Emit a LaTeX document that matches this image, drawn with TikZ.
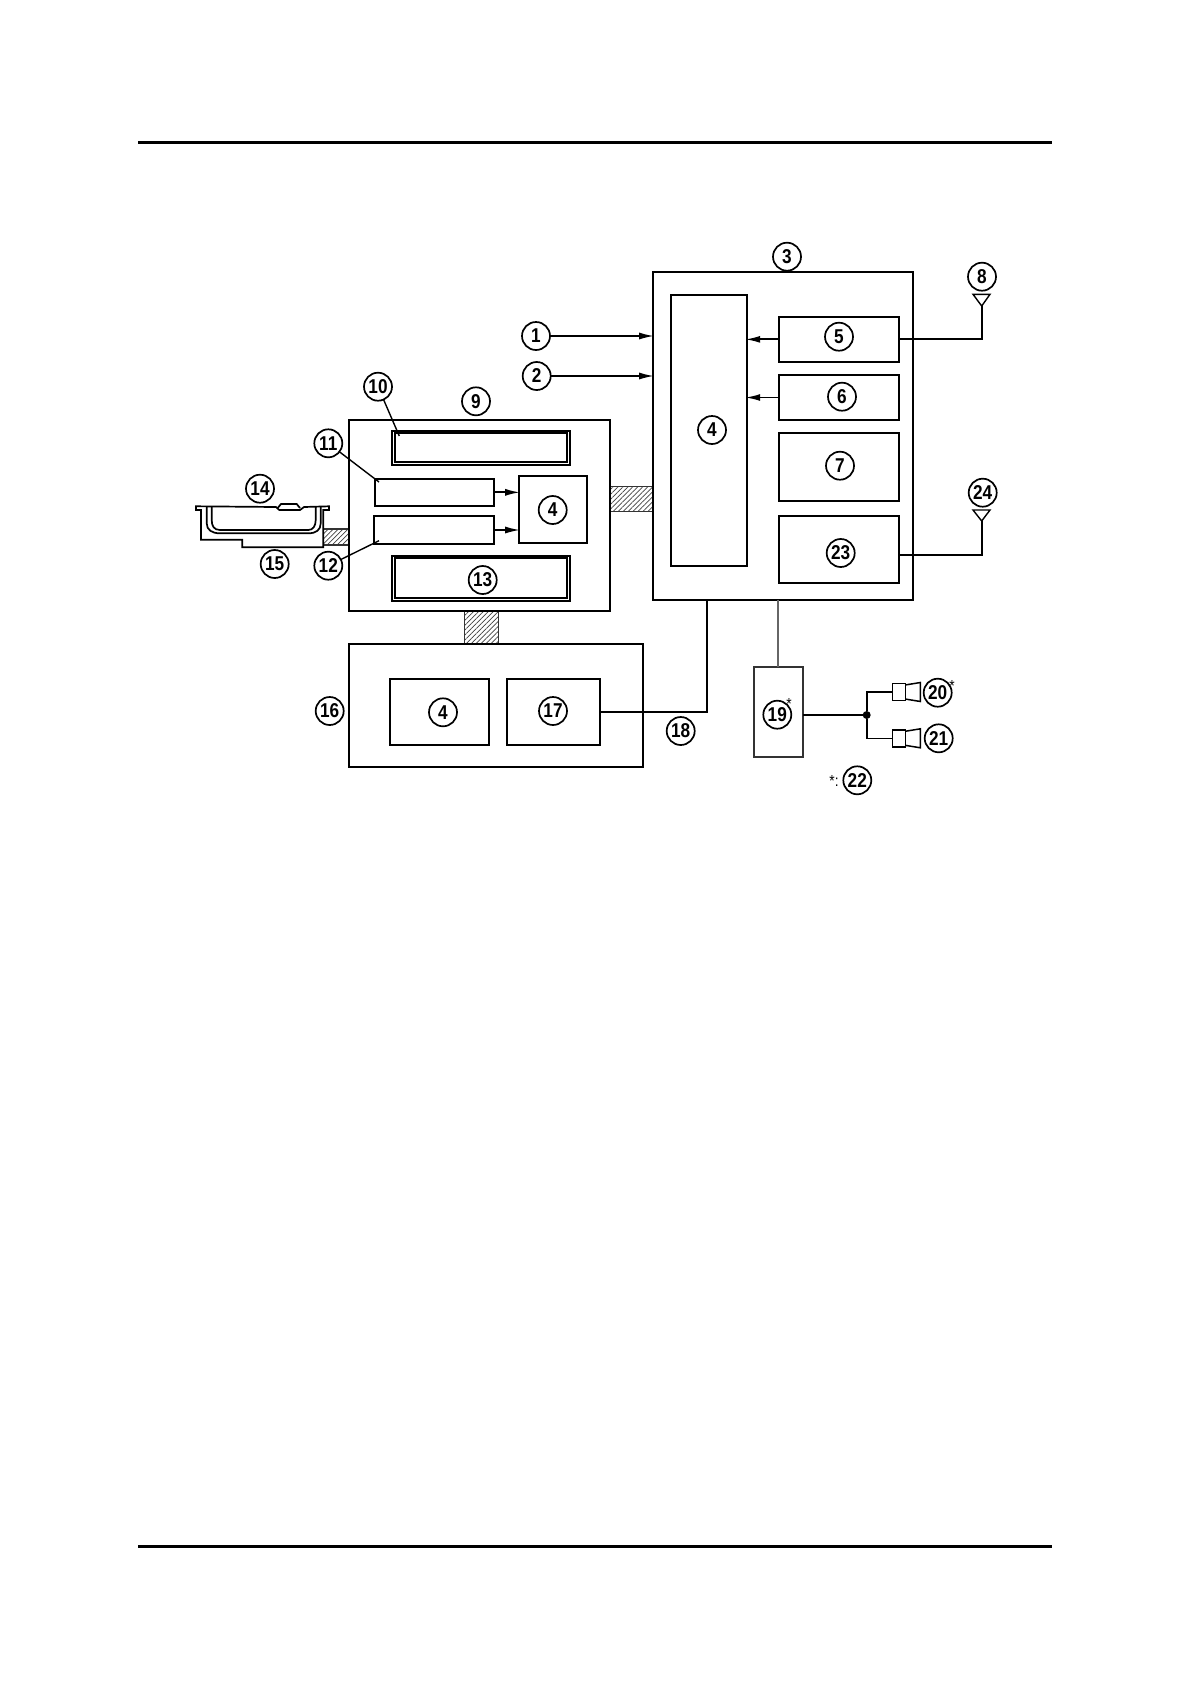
\documentclass[tikz,border=0pt]{standalone}
\usepackage{fontspec}
\setmainfont[FakeStretch=0.86]{Liberation Sans}
\usetikzlibrary{positioning, arrows.meta, patterns.meta}

\begin{document}
\begin{tikzpicture}[x=1pt, y=-1pt]
    % Define the style for the boxes
    \tikzset{
        blk/.style={rectangle, draw=black, line width=1.8pt, anchor=north west, inner sep=0pt, outer sep=0pt},
        num/.style={circle, draw=black, line width=1.7pt, minimum size=28pt, inner sep=0pt, outer sep=0pt, font=\fontsize{20}{20}\selectfont\bfseries},
        hatchbar/.style={rectangle, draw=black!80, line width=1.5pt, anchor=north west, inner sep=0pt, outer sep=0pt, pattern={Lines[angle=45, distance=3.5pt, line width=0.7pt]}, pattern color=black!75},
        wire/.style={draw=black, line width=1.8pt},
        arr/.style={wire, shorten >=-1.5pt, -{Latex[length=15pt, width=7pt]}},
        leader/.style={draw=black, line width=1.4pt},
        cone/.style={draw=black, line width=1.5pt, line join=miter},
        starmark/.style={inner sep=0pt, font=\fontsize{16}{16}\selectfont},
        junction/.style={circle, fill=black, minimum size=8pt, inner sep=0pt}
    }

    \useasboundingbox (0,0) rectangle (1190,1684);

    % Page rules
    \draw[line width=3.2pt] (138,142.3) -- (1052,142.3);
    \draw[line width=3.2pt] (138,1546.3) -- (1052,1546.3);

    % Draw the hatched buses
    \node[hatchbar, minimum width=43pt, minimum height=25pt] (bus3) at (610,486.7) {};
    \node[hatchbar, minimum width=26pt, minimum height=16pt] (bus14) at (323.3,529) {};
    \node[hatchbar, minimum width=33.6pt, minimum height=33.6pt] (bus16) at (464.7,610.7) {};

    % Draw the main unit
    \node[blk, minimum width=260pt, minimum height=327.3pt] (box3) at (652.7,272.3) {};
    \node[blk, minimum width=75.7pt, minimum height=271pt] (cpu3) at (671,295) {};
    \node[blk, minimum width=120pt, minimum height=45.3pt] (box5) at (779,316.7) {};
    \node[blk, minimum width=120pt, minimum height=45pt] (box6) at (779,375) {};
    \node[blk, minimum width=120pt, minimum height=68pt] (box7) at (779,433) {};
    \node[blk, minimum width=120pt, minimum height=67.3pt] (box23) at (779,515.7) {};

    % Draw the middle unit
    \node[blk, minimum width=261pt, minimum height=190.7pt] (box9) at (349,420) {};
    \node[blk, minimum width=178.3pt, minimum height=33.7pt] (box10) at (391.7,431) {};
    \node[blk, minimum width=171.7pt, minimum height=29pt] (box10in) at (395,433.3) {};
    \node[blk, minimum width=119.3pt, minimum height=26.7pt] (box11) at (374.7,479) {};
    \node[blk, minimum width=119.7pt, minimum height=27.4pt] (box12) at (374.3,516.3) {};
    \node[blk, minimum width=68pt, minimum height=67.6pt] (cpu9) at (518.7,475.7) {};
    \node[blk, minimum width=178.3pt, minimum height=45pt] (box13) at (391.7,555.7) {};
    \node[blk, minimum width=171.7pt, minimum height=40pt] (box13in) at (395,558.3) {};

    % Draw the lower unit
    \node[blk, minimum width=293.7pt, minimum height=123pt] (box16) at (349,644.3) {};
    \node[blk, minimum width=99pt, minimum height=66.6pt] (cpu16) at (390.3,678.7) {};
    \node[blk, minimum width=93.6pt, minimum height=66.6pt] (box17) at (506.7,678.7) {};

    % Draw the amplifier and speakers
    \node[blk, draw=black!80, minimum width=49.3pt, minimum height=90pt] (box19) at (753.7,667) {};
    \node[blk, line width=1.5pt, minimum width=13pt, minimum height=17pt] (spk20) at (892.7,683.7) {};
    \node[blk, line width=1.5pt, minimum width=13pt, minimum height=17pt] (spk21) at (892.7,730) {};
    \draw[cone] (spk20.north east) ++(0,1.2) -- ++(14.7,-2.4) -- ++(0,19) -- ++(-14.7,-2.4);
    \draw[cone] (spk21.north east) ++(0,1.2) -- ++(14.7,-2.4) -- ++(0,19) -- ++(-14.7,-2.4);

    % Draw the numbered circles
    \node[num] (num1) at (536,336) {1};
    \node[num] (num2) at (536.7,376) {2};
    \node[num] (num3) at (787,256.7) {3};
    \node[num] (num4a) at (712,430) {4};
    \node[num] (num5) at (839,336.7) {5};
    \node[num] (num6) at (842,396.7) {6};
    \node[num] (num7) at (840,465.7) {7};
    \node[num] (num8) at (982,276.7) {8};
    \node[num] (num9) at (476,401.3) {9};
    \node[num] (num10) at (378,386.7) {10};
    \node[num] (num11) at (328.3,443.3) {11};
    \node[num] (num12) at (328.3,565.7) {12};
    \node[num] (num13) at (482.7,580) {13};
    \node[num] (num14) at (260,488.7) {14};
    \node[num] (num15) at (274.7,564) {15};
    \node[num] (num4b) at (552.7,510) {4};
    \node[num] (num16) at (329.7,711) {16};
    \node[num] (num4c) at (443,712.3) {4};
    \node[num] (num17) at (553,711) {17};
    \node[num] (num18) at (680.7,731) {18};
    \node[num] (num19) at (777.3,714.7) {19};
    \node[num] (num20) at (937.7,692.7) {20};
    \node[num] (num21) at (938.7,738.3) {21};
    \node[num] (num22) at (857.3,780.3) {22};
    \node[num] (num23) at (840.7,553) {23};
    \node[num] (num24) at (982.7,492.7) {24};

    % Star marks
    \node[starmark] (star19) at (789,703.5) {*};
    \node[starmark] (star20) at (952,685.5) {*};
    \node[starmark] (star22) at (834,781) {*:};

    % Draw the arrows
    \draw[arr] (num1.east) -- (num1.east -| box3.west);
    \draw[arr] (num2.east) -- (num2.east -| box3.west);
    \draw[arr] (box5.west) -- (box5.west -| cpu3.east);
    \draw[arr] (box6.west) -- (box6.west -| cpu3.east);
    \draw[arr] (box11.east) -- (box11.east -| cpu9.west);
    \draw[arr] (box12.east) -- (box12.east -| cpu9.west);

    % Draw the leaders
    \coordinate (end10) at (399.3,436);
    \coordinate (end11) at (379,482);
    \coordinate (end12) at (379,540.7);
    \draw[leader] (num10) -- (end10);
    \draw[leader] (num11) -- (end11);
    \draw[leader] (num12) -- (end12);

    % Draw the antennas
    \coordinate (ant8) at (981.7,306);
    \coordinate (ant24) at (981.7,521);
    \draw[leader] (973,294.3) -- (990,294.3) -- (ant8) -- cycle;
    \draw[leader] (973,510) -- (990,510) -- (ant24) -- cycle;
    \draw[wire] (box5.east) -| (ant8);
    \draw[wire] ([yshift=-6pt]box23.east) -| (ant24);

    % Draw the remaining wires
    \coordinate (turn18) at (707,599.6);
    \draw[wire] (box17.east) -| (turn18);
    \draw[wire, draw=black!60] (box19.north |- box3.south) -- (box19.north);
    \node[junction] (joint) at (866.7,715) {};
    \draw[wire] (box19.east |- joint) -- (joint);
    \draw[wire] (joint) |- (spk20.west);
    \draw[wire] (joint) |- (spk21.west);

    % Draw the tray
    \begin{scope}[line width=1.7pt, line join=miter]
        \draw (196,506.3) -- (276,507) -- (279.3,510) -- (300,510) -- (304,507) -- (329,506.3) -- (329,510) -- (323.3,510) -- (323.3,547.3) -- (242.3,547.3) -- (242.3,539.7) -- (201,539.7) -- (201,510) -- (196,510) -- cycle;
        \draw (206.7,506.7) -- (206.7,523.3) .. controls (206.7,530) and (212,533.3) .. (220,533.3) -- (308.3,533.3) .. controls (316,533.3) and (320.7,530) .. (320.7,523.3) -- (320.7,506.7);
        \draw (211.7,506.7) -- (211.7,520) .. controls (211.7,526) and (214,530) .. (220,530) -- (308.3,530) .. controls (313,530) and (315.7,526) .. (315.7,520) -- (315.7,506.7);
        \draw (277.7,508) -- (281,504) -- (296.7,504) -- (300,508);
    \end{scope}
\end{tikzpicture}
\end{document}
